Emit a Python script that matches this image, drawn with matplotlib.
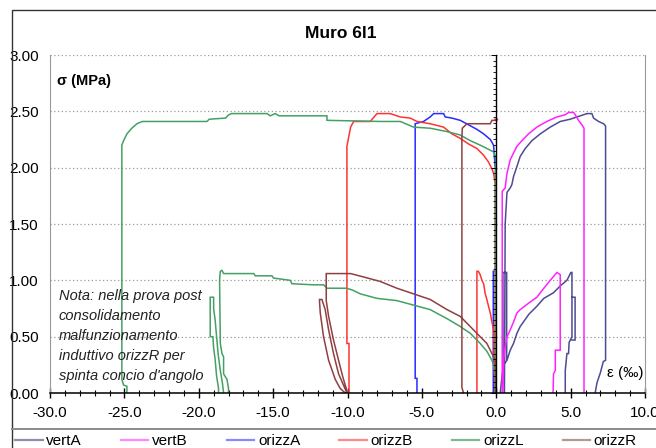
import numpy as np
import matplotlib
matplotlib.use("Agg")
import matplotlib.pyplot as plt
from matplotlib.ticker import MultipleLocator, FormatStrFormatter
from matplotlib.patches import Rectangle
from matplotlib.lines import Line2D

plt.rcParams['font.family'] = ['Liberation Sans', 'DejaVu Sans']

nan = np.nan

# ---- data (strain in per mille, stress in MPa) ----
vertA_x = [0.55, 0.6, 0.72, 0.94, 1.05, 1.16, 1.39, 1.61, 1.95, 2.4, 2.96, 3.63, 4.3, 4.97, 5.65, 6.1, 6.43, 6.54, 6.88, 7.21, 7.35, 7.35, 7.2, 7.0, 6.77, 6.65,
           nan, 0.27, 0.38, 0.49, 0.72, 0.94, 1.16, 1.39, 1.61, 2.2, 2.73, 3.2, 3.85, 4.3, 4.75, 5.02, 5.09, 5.09, 4.9, 4.86, 4.75, 4.64, 4.64,
           nan, 5.09, 5.3, 5.3, 5.09,
           nan, 0.45, 0.45, 0.7, 0.7]
vertA_y = [0.0, 1.5, 1.78, 1.82, 1.85, 1.92, 2.01, 2.10, 2.17, 2.24, 2.30, 2.36, 2.41, 2.43, 2.46, 2.48, 2.48, 2.44, 2.41, 2.39, 2.37, 0.29, 0.28, 0.18, 0.09, 0.0,
           nan, 0.0, 0.14, 0.25, 0.29, 0.38, 0.44, 0.53, 0.59, 0.70, 0.77, 0.84, 0.89, 0.95, 1.0, 1.07, 1.07, 0.5, 0.45, 0.35, 0.35, 0.2, 0.0,
           nan, 0.85, 0.85, 0.47, 0.47,
           nan, 0.25, 1.07, 1.07, 0.3]

vertB_x = [0.4, 0.4, 0.6, 0.72, 0.94, 1.16, 1.39, 1.73, 2.17, 2.73, 3.4, 4.08, 4.64, 4.86, 5.2, 5.31, 5.53, 5.76, 5.9, 5.9,
           nan, 0.45, 0.49, 0.6, 0.72, 0.94, 1.16, 1.39, 1.61, 2.2, 2.73, 3.2, 3.63, 4.08, 4.3, 4.3, 3.97, 3.97, 3.85, 3.82]
vertB_y = [0.0, 1.79, 1.82, 1.95, 2.07, 2.13, 2.19, 2.24, 2.30, 2.36, 2.41, 2.45, 2.47, 2.49, 2.49, 2.47, 2.42, 2.38, 2.35, 0.0,
           nan, 0.0, 0.29, 0.41, 0.5, 0.56, 0.63, 0.71, 0.74, 0.80, 0.85, 0.93, 1.0, 1.07, 1.05, 0.38, 0.38, 0.2, 0.17, 0.0]

orizzA_x = [-5.33, -5.33, -5.45, -5.45, -4.89, -4.44, -4.21, -3.54, -3.43, -2.98, -2.42, -1.86, -1.30, -0.85, -0.40, -0.18, -0.1, -0.05, -0.05,
            nan, -0.2, -0.2, 0.0]
orizzA_y = [0.0, 0.13, 0.13, 2.39, 2.41, 2.45, 2.48, 2.48, 2.45, 2.44, 2.42, 2.38, 2.34, 2.30, 2.25, 2.20, 2.05, 1.98, 0.0,
            nan, 0.0, 1.08, 1.08]

orizzB_x = [-9.9, -9.9, -10.04, -10.04, -9.79, -9.59, -8.47, -8.02, -7.13, -6.45, -5.78, -5.33, -4.44, -3.54, -2.98, -2.42, -1.86, -1.30, -0.85, -0.52, -0.29, -0.18, -0.07, -0.07,
            nan, -1.3, -1.3, -1.2, -1.08, -0.96, -0.85, -0.74, -0.63, -0.52, -0.4, -0.29, -0.18, -0.15, -0.1,
            nan, -0.08, 0.08]
orizzB_y = [0.0, 0.44, 0.44, 2.19, 2.36, 2.41, 2.41, 2.48, 2.48, 2.45, 2.44, 2.41, 2.39, 2.36, 2.30, 2.26, 2.21, 2.17, 2.11, 2.05, 1.99, 1.95, 1.86, 0.0,
            nan, 0.0, 1.08, 1.08, 1.05, 1.0, 0.97, 0.88, 0.83, 0.77, 0.71, 0.63, 0.56, 0.4, 0.0,
            nan, 2.43, 2.43]

orizzL_x = [-24.83, -24.83, -25.05, -25.17, -25.17, -25.05, -24.83, -24.5, -24.15, -23.8, -19.45, -19.3, -18.2, -17.98, -17.77, -15.4, -15.2, -14.86, -14.6, -11.38, -11.38,
            -7.8, -6.45, -5.56, -4.44, -3.31, -2.42, -1.75, -1.08, -0.63, -0.18, -0.05, -0.05,
            nan, -18.0, -18.0, -18.1, -18.33, -18.33, -18.44, -18.55, -18.6, -18.55, -18.44, -18.33, -16.3, -16.2, -15.08, -14.97, -13.85, -13.74, -12.28,
            -11.6, -11.38, -10.04, -9.6, -9.14, -8.02, -6.68, -5.56, -4.44, -3.31, -2.42, -1.75, -1.08, -0.63, -0.29, -0.18, -0.1, -0.1,
            nan, -18.67, -18.67, -18.8, -18.9, -19.0, -19.05, -19.23, -19.23, -19.0, -19.0, -18.9, -18.8, -18.7, -18.55, -18.4, -18.33]
orizzL_y = [0.0, 0.06, 0.07, 0.12, 2.2, 2.24, 2.30, 2.35, 2.39, 2.41, 2.41, 2.43, 2.44, 2.47, 2.48, 2.48, 2.46, 2.48, 2.46, 2.46, 2.42,
            2.41, 2.41, 2.36, 2.35, 2.32, 2.29, 2.24, 2.20, 2.17, 2.14, 2.1, 0.0,
            nan, 0.0, 0.04, 0.12, 0.17, 0.32, 0.35, 0.44, 1.0, 1.08, 1.09, 1.06, 1.06, 1.04, 1.04, 1.02, 1.0, 0.97, 0.96,
            0.96, 0.93, 0.93, 0.91, 0.88, 0.84, 0.82, 0.78, 0.74, 0.66, 0.59, 0.53, 0.44, 0.37, 0.29, 0.25, 0.15, 0.0,
            nan, 0.0, 0.04, 0.15, 0.3, 0.4, 0.5, 0.5, 0.85, 0.85, 0.75, 0.65, 0.5, 0.35, 0.2, 0.08, 0.0]

orizzR_x = [-2.2, -2.31, -2.31, -2.28, -1.97, -0.4, -0.29, 0.04,
            nan, -0.05, -0.07, -0.29, -0.63, -1.08, -1.75, -2.42, -3.31, -4.44, -5.56, -6.68, -7.8, -8.92, -9.8, -11.43, -11.43,
            -11.27, -10.94, -10.6, -10.31, -10.04, -10.04, -10.27, -10.6, -10.94, -11.27, -11.5, -11.72, -11.88, -11.88,
            -11.83, -11.61, -11.27, -10.82, -10.49, -10.15]
orizzR_y = [0.0, 0.05, 2.27, 2.35, 2.39, 2.39, 2.42, 2.42,
            nan, 0.0, 0.29, 0.35, 0.44, 0.50, 0.59, 0.68, 0.74, 0.83, 0.88, 0.93, 0.99, 1.03, 1.06, 1.06, 0.82,
            0.68, 0.47, 0.29, 0.14, 0.02, 0.0, 0.07, 0.17, 0.35, 0.56, 0.74, 0.83, 0.83, 0.81,
            0.71, 0.50, 0.29, 0.12, 0.04, 0.0]

series = [
    ("vertA", vertA_x, vertA_y, "#4c4c92"),
    ("vertB", vertB_x, vertB_y, "#ff22ff"),
    ("orizzA", orizzA_x, orizzA_y, "#2a2aff"),
    ("orizzB", orizzB_x, orizzB_y, "#ff3333"),
    ("orizzL", orizzL_x, orizzL_y, "#45a065"),
    ("orizzR", orizzR_x, orizzR_y, "#8f4040"),
]
legend_colors = ["#8e8ea8", "#ff88ff", "#8a8aff", "#ff8a8a", "#7fb890", "#b09898"]

note_lines = ["Nota: nella prova post", "consolidamento", "malfunzionamento",
              "induttivo orizzR per", "spinta concio d'angolo"]

# ---- figure ----
W, H = 656, 448
fig = plt.figure(figsize=(W / 100, H / 100), dpi=100)
fig.patch.set_facecolor("white")

L, R, T, B = 50, 645, 55, 393
ax = fig.add_axes([L / W, 1 - B / H, (R - L) / W, (B - T) / H])
ax.set_xlim(-30, 10)
ax.set_ylim(0, 3)

for name, xs, ys, c in series:
    ax.plot(xs, ys, color=c, lw=1.1, solid_joinstyle="miter")

ax.xaxis.set_major_locator(MultipleLocator(5))
ax.xaxis.set_minor_locator(MultipleLocator(1))
ax.xaxis.set_major_formatter(FormatStrFormatter("%.1f"))
ax.yaxis.set_major_locator(MultipleLocator(0.5))
ax.yaxis.set_major_formatter(FormatStrFormatter("%.2f"))
ax.tick_params(axis="x", which="major", direction="inout", length=7, width=1, pad=6, labelsize=11)
ax.tick_params(axis="x", which="minor", direction="inout", length=4, width=0.8)
ax.tick_params(axis="y", which="both", length=0, pad=8, labelsize=11)

ax.yaxis.grid(True, linestyle=(0, (1, 2)), color="#9a9a9a", lw=0.9)
ax.set_axisbelow(True)
ax.spines["top"].set_visible(False)
ax.spines["left"].set_color("#999999")
ax.spines["right"].set_color("#999999")
ax.spines["bottom"].set_color("black")
ax.spines["bottom"].set_linewidth(1.1)

# vertical axis crossing at x = 0
ax2 = ax.twinx()
ax2.set_ylim(0, 3)
for s in ["top", "bottom", "left"]:
    ax2.spines[s].set_visible(False)
ax2.spines["right"].set_position(("data", 0))
ax2.spines["right"].set_color("black")
ax2.spines["right"].set_linewidth(1.0)
ax2.yaxis.set_major_locator(MultipleLocator(0.5))
ax2.yaxis.set_minor_locator(MultipleLocator(0.05))
ax2.tick_params(axis="y", which="major", direction="in", length=3.5, width=0.7, labelright=False)
ax2.tick_params(axis="y", which="minor", direction="in", length=2.5, width=0.6, labelright=False)

# texts
fig.text(341 / W, 1 - 33 / H, "Muro 6l1", ha="center", va="center", fontsize=12.5, fontweight="bold")
fig.text(57 / W, 1 - 81 / H, "σ (MPa)", ha="left", va="center", fontsize=10.5, fontweight="bold")
fig.text(607 / W, 1 - 373 / H, "ε (‰)", ha="left", va="center", fontsize=11)
for i, line in enumerate(note_lines):
    fig.text(59 / W, 1 - (296 + 20 * i) / H, line, ha="left", va="center",
             fontsize=10.5, fontstyle="italic", color="#222222")

# outer frame and legend separator
fig.patches.append(Rectangle((12 / W, -0.1), 1.2, 1.1 - 10.5 / H, transform=fig.transFigure,
                             fill=False, edgecolor="#333333", lw=1.0))
fig.lines.append(Line2D([12 / W, 1], [1 - 429 / H, 1 - 429 / H], transform=fig.transFigure,
                        color="#8a8a8a", lw=1.4))

handles = [Line2D([0], [0], color=c, lw=1.6) for c in legend_colors]
labels = [s[0] for s in series]
fig.legend(handles, labels, loc="center left", ncol=6, frameon=False, mode="expand",
           bbox_to_anchor=(15 / W, 1 - 441 / H, 622 / W, 0), fontsize=11,
           handlelength=1.8, handletextpad=0.25, borderaxespad=0, borderpad=0)

fig.savefig("out.png", dpi=100)
